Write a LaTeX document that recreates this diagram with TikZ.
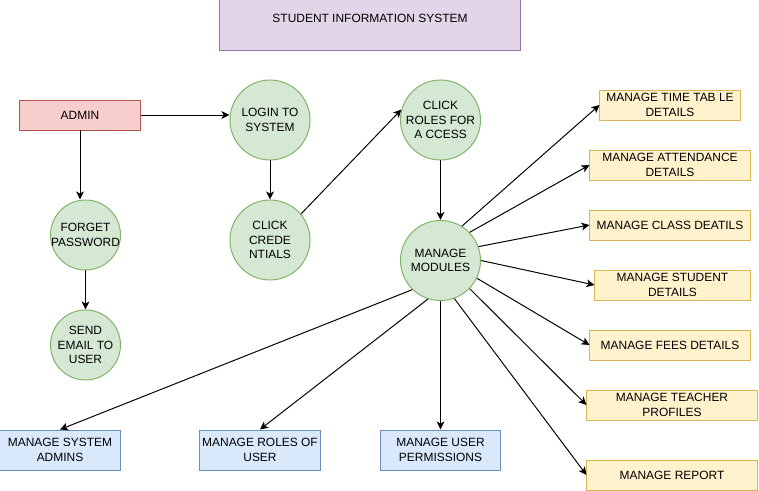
\documentclass[tikz,border=0pt]{standalone}
\usepackage{xcolor}
\usepackage{fontspec}
\setmainfont{Liberation Sans}
\usetikzlibrary{arrows.meta}
\definecolor{TitleFill}{HTML}{E1D5E7}
\definecolor{TitleLine}{HTML}{9673A6}
\definecolor{AdminFill}{HTML}{F8CECC}
\definecolor{AdminLine}{HTML}{B85450}
\definecolor{StateFill}{HTML}{D5E8D4}
\definecolor{StateLine}{HTML}{82B366}
\definecolor{ModuleFill}{HTML}{FFF2CC}
\definecolor{ModuleLine}{HTML}{D6B656}
\definecolor{AccessFill}{HTML}{DAE8FC}
\definecolor{AccessLine}{HTML}{6C8EBF}

\begin{document}
\begin{tikzpicture}[x=0.025cm, y=-0.025cm,
  every node/.style={font=\fontsize{8.5}{10.2}\selectfont, align=center, line width=0.7pt},
  box/.style={rectangle, draw, inner sep=0pt},
  state/.style={circle, draw=StateLine, fill=StateFill, inner sep=0pt, minimum size=2cm},
  smallstate/.style={state, minimum size=1.75cm, inner xsep=-3pt},
  module/.style={box, draw=ModuleLine, fill=ModuleFill, minimum height=0.75cm},
  access/.style={box, draw=AccessLine, fill=AccessFill, minimum width=3cm, minimum height=1cm},
  flow/.style={-{Stealth[length=5.7pt, width=5.5pt, inset=1.5pt]}, line width=0.7pt}]
  \useasboundingbox (0,0) rectangle (759,491);

  \node (title) [box, draw=TitleLine, fill=TitleFill, minimum width=7.5cm, minimum height=1.25cm,
    label={[yshift=5pt]center:STUDENT INFORMATION SYSTEM}] at (370,25) {};

  \node (admin) [box, draw=AdminLine, fill=AdminFill, minimum width=3cm, minimum height=0.75cm] at (80,115) {ADMIN};
  \node (forget) [smallstate] at (85.5,235) {FORGET\\PASSWORD};
  \node (email) [smallstate] at (85.5,345) {SEND\\EMAIL TO\\USER};
  \node (login) [state] at (270,120) {LOGIN TO\\SYSTEM};
  \node (creds) [state] at (270,240) {CLICK\\CREDE\\NTIALS};
  \node (roles) [state] at (440.5,120) {CLICK\\ROLES FOR\\A CCESS};
  \node (modules) [state] at (440.5,260.5) {MANAGE\\MODULES};

  \node (timetable) [module, minimum width=3.5cm] at (670,105) {MANAGE TIME TAB LE\\DETAILS};
  \node (attendance) [module, minimum width=4cm] at (670,165) {MANAGE ATTENDANCE\\DETAILS};
  \node (class) [module, minimum width=4cm] at (670,225) {MANAGE CLASS DEATILS};
  \node (student) [module, minimum width=3.875cm] at (672.5,285) {MANAGE STUDENT\\DETAILS};
  \node (fees) [module, minimum width=4cm] at (670,345) {MANAGE FEES DETAILS};
  \node (teacher) [module, minimum width=4.25cm] at (672,405) {MANAGE TEACHER\\PROFILES};
  \node (report) [module, minimum width=4.25cm] at (672,475) {MANAGE REPORT};

  \node (sysadmins) [access] at (60,450) {MANAGE SYSTEM\\ADMINS};
  \node (roleuser) [access] at (260,450) {MANAGE ROLES OF\\USER};
  \node (permissions) [access] at (440.5,450) {MANAGE USER\\PERMISSIONS};

  \draw[flow] (admin.south) -- (forget.north -| admin.south);
  \draw[flow] (forget) -- (email);
  \draw[flow] (admin.east) -- (admin.east -| login.west);
  \draw[flow] (login) -- (creds);
  \draw[flow] (creds.40) -- (roles.165);
  \draw[flow] (roles) -- (modules);

  \draw[flow] (modules.58) -- (timetable.west);
  \draw[flow] (modules.44) -- (attendance.west);
  \draw[flow] (modules.20) -- (class.west);
  \draw[flow] (modules.0) -- (student.west);
  \draw[flow] (modules.-26) -- (fees.west);
  \draw[flow] (modules.-44) -- (teacher.west);
  \draw[flow] (modules.-70) -- (report.west);
  \draw[flow] (modules.-134) -- (sysadmins.north);
  \draw[flow] (modules.-108) -- (roleuser.north);
  \draw[flow] (modules.south) -- (permissions.north);
\end{tikzpicture}
\end{document}
